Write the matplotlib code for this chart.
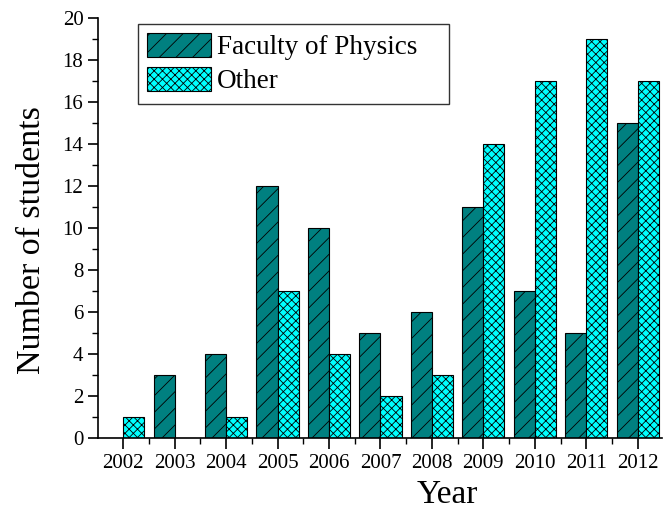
import numpy as np
import matplotlib
matplotlib.use("Agg")
import matplotlib.pyplot as plt
from matplotlib.ticker import MultipleLocator

years = ["2002", "2003", "2004", "2005", "2006", "2007", "2008", "2009", "2010", "2011", "2012"]
physics = [0, 3, 4, 12, 10, 5, 6, 11, 7, 5, 15]
other = [1, 0, 1, 7, 4, 2, 3, 14, 17, 19, 17]

plt.rcParams["font.family"] = ["Liberation Serif", "DejaVu Serif"]
plt.rcParams["hatch.linewidth"] = 0.6
plt.rcParams["hatch.color"] = "black"

fig = plt.figure(figsize=(6.72, 5.12), dpi=100)
ax = fig.add_axes([0.1458, 0.1445, 0.8392, 0.8203])

x = np.arange(len(years))
w = 0.41
ax.bar(x - w / 2, physics, w, color="#008080", edgecolor="black", linewidth=0.8,
       hatch="//", label="Faculty of Physics")
ax.bar(x + w / 2, other, w, color="#00FFFF", edgecolor="black", linewidth=0.8,
       hatch="xxxx", label="Other")

ax.set_xlim(-0.49, 10.47)
ax.set_ylim(0, 20)
ax.set_xticks(x)
ax.set_xticklabels(years)
ax.xaxis.set_minor_locator(MultipleLocator(0.5))
ax.yaxis.set_major_locator(MultipleLocator(2))
ax.yaxis.set_minor_locator(MultipleLocator(1))
ax.tick_params(axis="both", which="major", direction="out", length=7, width=1.2,
               labelsize=15)
ax.tick_params(axis="both", which="minor", direction="out", length=4, width=1.0)
ax.tick_params(axis="x", which="major", length=8)

for s in ["top", "right"]:
    ax.spines[s].set_visible(False)
for s in ["left", "bottom"]:
    ax.spines[s].set_linewidth(1.2)

# axis titles sit off-centre in the original
ax.set_xlabel("Year", fontsize=24, labelpad=5)
ax.set_ylabel("Number of students", fontsize=24.5, labelpad=11)
ax.xaxis.label.set_x(0.62)
ax.yaxis.label.set_y(0.471)

leg = ax.legend(loc="upper left", bbox_to_anchor=(0.071, 0.5, 0.551, 0.486),
                mode="expand", borderaxespad=0,
                fontsize=19.5, frameon=True, fancybox=False, edgecolor="black",
                handlelength=2.33, handleheight=0.96, handletextpad=0.22,
                labelspacing=0.25, borderpad=0.35)
leg.get_frame().set_linewidth(1.0)

fig.savefig("out.png", dpi=100)
